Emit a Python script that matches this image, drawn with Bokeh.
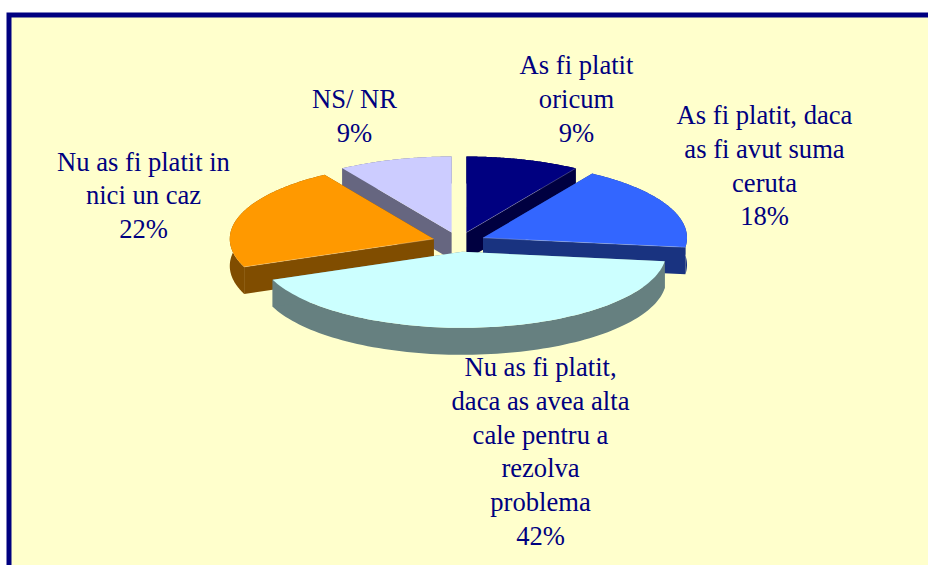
import numpy as np
from bokeh.plotting import figure
from bokeh.models import Range1d
from bokeh.core.properties import value
from bokeh.embed import file_html
from bokeh.resources import INLINE

# --- data ---
categories = ["As fi platit oricum", "As fi platit, daca as fi avut suma ceruta",
              "Nu as fi platit, daca as avea alta cale pentru a rezolva problema",
              "Nu as fi platit in nici un caz", "NS/ NR"]
percents = [9, 18, 42, 22, 9]
label_lines = [
    ["As fi platit", "oricum", "9%"],
    ["As fi platit, daca", "as fi avut suma", "ceruta", "18%"],
    ["Nu as fi platit,", "daca as avea alta", "cale pentru a", "rezolva", "problema", "42%"],
    ["Nu as fi platit in", "nici un caz", "22%"],
    ["NS/ NR", "9%"],
]

# --- styles / layout ---
top_colors = ["#000080", "#3366FF", "#CCFFFF", "#FF9900", "#CCCCFF"]
side_colors = ["#000040", "#193380", "#668080", "#804D00", "#666680"]
draw_order = [4, 0, 3, 1, 2]
CX, CY, RX, RY, DEPTH, EXPLODE = 458.5, 241.5, 204, 76, 27, 0.13
label_x = [576, 764, 540, 143, 354]
label_y = [74, 124, 376, 170.5, 108]
LINE_H = 33.7
FS = "26.6px"
INK = "#000080"

p = figure(width=928, height=565, x_range=Range1d(0, 928), y_range=Range1d(565, 0),
           output_backend="svg", toolbar_location=None, min_border=0,
           margin=(0, 0, 0, 0), background_fill_color="#FFFFFF",
           border_fill_color="#FFFFFF", outline_line_color=None)
p.axis.visible = False
p.grid.visible = False

# frame
p.quad(left=[6], right=[940], top=[12], bottom=[600], fill_color="#000080", line_color=None)
p.quad(left=[11], right=[940], top=[17], bottom=[600], fill_color="#FFFFCC", line_color=None)

# pie: angles clockwise from 12 o'clock
fr = np.cumsum([0] + percents) / sum(percents) * 2 * np.pi
for i in draw_order:
    a0, a1 = fr[i], fr[i + 1]
    mid = (a0 + a1) / 2
    tx = CX + EXPLODE * RX * np.sin(mid)
    ty = CY - EXPLODE * RY * np.cos(mid)
    t = np.linspace(a0, a1, 90)
    ax = tx + RX * np.sin(t)
    ay = ty - RY * np.cos(t)
    qx = [np.r_[ax, ax[::-1]],
          [tx, ax[0], ax[0], tx],
          [tx, ax[-1], ax[-1], tx]]
    qy = [np.r_[ay, ay[::-1] + DEPTH],
          [ty, ay[0], ay[0] + DEPTH, ty + DEPTH],
          [ty, ay[-1], ay[-1] + DEPTH, ty + DEPTH]]
    p.patches(qx, qy, fill_color=side_colors[i], line_color=None)
    p.patch(np.r_[tx, ax], np.r_[ty, ay], fill_color=top_colors[i], line_color=None)
    # thin pale highlight along the front radial edge of the top face
    if i in (0, 1, 3):
        ex, ey = (ax[-1], ay[-1]) if i != 3 else (ax[0], ay[0])
        p.line([tx, ex], [ty, ey], line_color="#FFFFFF", line_alpha=0.4, line_width=0.6)

# labels
for lines, lx, ly in zip(label_lines, label_x, label_y):
    p.text(x=[lx] * len(lines), y=[ly + LINE_H * m - 9.3 for m in range(len(lines))],
           text=lines, text_font=value("Liberation Serif"), text_font_size=value(FS),
           text_color=INK, text_align="center", text_baseline="alphabetic")

open("out.html", "w").write(file_html(p, INLINE))
